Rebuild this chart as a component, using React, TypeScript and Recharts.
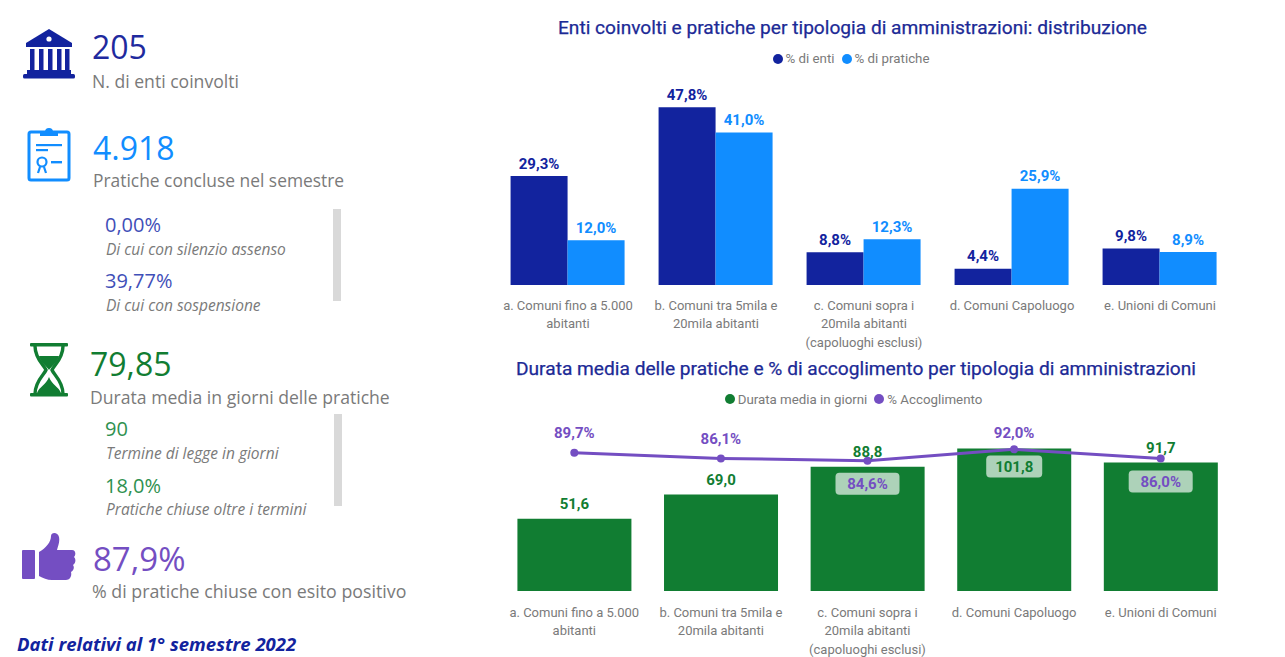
import { CSSProperties, ReactNode } from "react";
import {
  Bar,
  ComposedChart,
  LabelList,
  Legend,
  Line,
  XAxis,
  YAxis,
} from "recharts";

const categories = [
  "a. Comuni fino a 5.000\nabitanti",
  "b. Comuni tra 5mila e\n20mila abitanti",
  "c. Comuni sopra i\n20mila abitanti\n(capoluoghi esclusi)",
  "d. Comuni Capoluogo",
  "e. Unioni di Comuni",
];
const enti = [29.3, 47.8, 8.8, 4.4, 9.8];
const pratiche = [12.0, 41.0, 12.3, 25.9, 8.9];
const durata = [51.6, 69.0, 88.8, 101.8, 91.7];
const accoglimento = [89.7, 86.1, 84.6, 92.0, 86.0];

const distribuzione = categories.map((name, i) => ({
  name,
  enti: enti[i],
  pratiche: pratiche[i],
}));
const durataData = categories.map((name, i) => ({
  name,
  durata: durata[i],
  accoglimento: accoglimento[i],
}));

const BLUE = "#12239e";
const LIGHT_BLUE = "#118dff";
const GREEN = "#117d32";
const PURPLE = "#744ec2";
const GREY = "#7a7a7a";
const CHART_FONT = "Roboto, sans-serif";
const KPI_FONT = "'Open Sans', sans-serif";

const pct = (v: number) => `${v.toFixed(1).replace(".", ",")}%`;
const num = (v: number) => v.toFixed(1).replace(".", ",");

function tickFor(firstLine: number) {
  return function CategoryTick({ x, y, payload }: any) {
    const lines = String(payload.value).split("\n");
    return (
      <text
        x={x}
        y={y + firstLine}
        textAnchor="middle"
        fontFamily={CHART_FONT}
        fontSize={13}
        fill={GREY}
      >
        {lines.map((line, i) => (
          <tspan key={line} x={x} dy={i === 0 ? 0 : 18.3}>
            {line}
          </tspan>
        ))}
      </text>
    );
  };
}

// value label above the mark, or on a pale chip below it for the indexes in chipAt
function ValueLabel(props: any, fmt: (v: number) => string, color: string, gap: (i: number) => number, chipAt: number[], chipGap: number, chipW: number) {
  const { x, y, width, value, index } = props;
  const cx = width ? x + width / 2 : x;
  if (chipAt.includes(index)) {
    const cy = y + chipGap;
    return (
      <g key={index}>
        <rect x={cx - chipW / 2} y={cy - 11} width={chipW} height={22} rx={4} fill="#fff" fillOpacity={0.66} />
        <text x={cx} y={cy} dy="0.35em" textAnchor="middle" fontFamily={CHART_FONT} fontSize={15} fontWeight={700} fill={color}>
          {fmt(value)}
        </text>
      </g>
    );
  }
  return (
    <text key={index} x={cx} y={y - gap(index)} dy="0.35em" textAnchor="middle" fontFamily={CHART_FONT} fontSize={15} fontWeight={700} fill={color}>
      {fmt(value)}
    </text>
  );
}

function renderLegend({ payload }: any) {
  return (
    <div style={{ display: "flex", justifyContent: "center", alignItems: "center", gap: 7, height: 20 }}>
      {payload.map((item: any) => (
        <span key={item.value} style={{ display: "flex", alignItems: "center", gap: 3 }}>
          <svg width={10} height={10}>
            <circle cx={5} cy={5} r={5} fill={item.color} />
          </svg>
          <span style={{ color: GREY, fontFamily: CHART_FONT, fontSize: 13.3, lineHeight: 1 }}>{item.value}</span>
        </span>
      ))}
    </div>
  );
}

function ChartTitle({ top, left, width, children }: { top: number; left: number; width: number; children: string }) {
  return (
    <svg style={{ position: "absolute", left, top, overflow: "visible" }} width={width} height={24}>
      <text
        x={0}
        y={18}
        textLength={width}
        lengthAdjust="spacingAndGlyphs"
        fontFamily={CHART_FONT}
        fontSize={18}
        fontWeight={400}
        fill="#1c2a96"
        stroke="#1c2a96"
        strokeWidth={0.25}
      >
        {children}
      </text>
    </svg>
  );
}

function Txt({ x, y, size, color, style, children }: { x: number; y: number; size: number; color: string; style?: CSSProperties; children: ReactNode }) {
  return (
    <div
      style={{
        position: "absolute",
        left: x,
        top: y,
        transform: "translateY(-50%)",
        fontFamily: KPI_FONT,
        fontSize: size,
        color,
        lineHeight: 1,
        whiteSpace: "nowrap",
        ...style,
      }}
    >
      {children}
    </div>
  );
}

function GreyBar({ x, top, height }: { x: number; top: number; height: number }) {
  return <div style={{ position: "absolute", left: x, top, width: 8, height, background: "#d9d9d9" }} />;
}

function BankIcon() {
  return (
    <svg style={{ position: "absolute", left: 23, top: 29 }} width={52} height={50} viewBox="0 0 52 50">
      <path d="M26 0 L49 14 V18 H3 V14 Z" fill={BLUE} />
      <circle cx={26} cy={10} r={2.6} fill="#fff" />
      {[7, 16, 25, 34, 42].map((x) => (
        <rect key={x} x={x} y={20} width={4.5} height={21} fill={BLUE} />
      ))}
      <rect x={4} y={41} width={44} height={4} fill={BLUE} />
      <rect x={0} y={45} width={52} height={4.5} rx={1.5} fill={BLUE} />
    </svg>
  );
}

function ClipboardIcon() {
  return (
    <svg style={{ position: "absolute", left: 27, top: 127 }} width={44} height={55} viewBox="0 0 44 55">
      <rect x={2} y={5} width={40} height={48} rx={2} fill="none" stroke={LIGHT_BLUE} strokeWidth={3} />
      <path d="M13 9 V5 H18 A4 4 0 0 1 26 5 H31 V9 Z" fill={LIGHT_BLUE} />
      <rect x={9} y={17} width={26} height={2.2} fill={LIGHT_BLUE} />
      <rect x={9} y={22} width={12} height={2.2} fill={LIGHT_BLUE} />
      <circle cx={15} cy={35} r={4.5} fill="none" stroke={LIGHT_BLUE} strokeWidth={2.2} />
      <path d="M11 46 L13 40 M19 46 L17 40" stroke={LIGHT_BLUE} strokeWidth={2.2} />
      <rect x={24} y={34} width={11} height={2.4} fill={LIGHT_BLUE} />
    </svg>
  );
}

function HourglassIcon() {
  return (
    <svg style={{ position: "absolute", left: 30, top: 343 }} width={38} height={54} viewBox="0 0 38 54">
      <rect x={0} y={0} width={38} height={3.5} rx={1} fill={GREEN} />
      <rect x={0} y={50} width={38} height={3.5} rx={1} fill={GREEN} />
      <path d="M5 3 C5 16 14 22 16 27 C14 32 5 38 5 51" fill="none" stroke={GREEN} strokeWidth={3.4} />
      <path d="M33 3 C33 16 24 22 22 27 C24 32 33 38 33 51" fill="none" stroke={GREEN} strokeWidth={3.4} />
      <path d="M9 13 H29 C27 20 21 24 19 27 C17 24 11 20 9 13 Z" fill={GREEN} />
      <path d="M7 50 C9 44 16 42 19 34 C22 42 29 44 31 50 Z" fill={GREEN} />
    </svg>
  );
}

function ThumbIcon() {
  return (
    <svg style={{ position: "absolute", left: 22, top: 533 }} width={54} height={48} viewBox="0 0 54 48">
      <rect x={0} y={17} width={13} height={29} rx={1} fill={PURPLE} />
      <path
        d="M17 19 C24 15 29 9 29 3 C29 -1 36 -1 37 4 C38 9 36 13 35 17 H50 C54 17 54 22 52 24 C54 26 54 30 51 32 C53 35 51 38 49 39 C50 43 48 47 44 47 H30 C25 47 21 45 17 43 Z"
        fill={PURPLE}
      />
    </svg>
  );
}

const italic: CSSProperties = { fontStyle: "italic" };

export default function App() {
  const Tick1 = tickFor(17);
  const Tick2 = tickFor(18);
  return (
    <div style={{ position: "absolute", left: 0, top: 0, width: 1285, height: 657, background: "#fff", overflow: "hidden" }}>
      <BankIcon />
      <Txt x={92} y={47} size={32} color="#1f2a9e">205</Txt>
      <Txt x={92} y={81.5} size={17.6} color={GREY}>N. di enti coinvolti</Txt>

      <ClipboardIcon />
      <Txt x={93} y={148} size={32} color={LIGHT_BLUE}>4.918</Txt>
      <Txt x={93} y={181} size={17.4} color={GREY}>Pratiche concluse nel semestre</Txt>
      <Txt x={105} y={225} size={20} color="#3f4fb8">0,00%</Txt>
      <Txt x={106} y={250} size={15.5} color={GREY} style={italic}>Di cui con silenzio assenso</Txt>
      <Txt x={105} y={281} size={20} color="#3f4fb8">39,77%</Txt>
      <Txt x={106} y={306} size={15.5} color={GREY} style={italic}>Di cui con sospensione</Txt>
      <GreyBar x={333} top={209} height={92} />

      <HourglassIcon />
      <Txt x={90} y={364} size={32} color={GREEN}>79,85</Txt>
      <Txt x={90} y={398} size={17.6} color={GREY}>Durata media in giorni delle pratiche</Txt>
      <Txt x={105} y={429} size={20} color="#2f9150">90</Txt>
      <Txt x={106} y={454} size={15.5} color={GREY} style={italic}>Termine di legge in giorni</Txt>
      <Txt x={105} y={486} size={20} color="#2f9150">18,0%</Txt>
      <Txt x={106} y={510} size={15.5} color={GREY} style={italic}>Pratiche chiuse oltre i termini</Txt>
      <GreyBar x={334} top={414} height={92} />

      <ThumbIcon />
      <Txt x={93} y={558} size={33} color={PURPLE}>87,9%</Txt>
      <Txt x={92} y={592} size={17.8} color={GREY}>% di pratiche chiuse con esito positivo</Txt>
      <Txt x={17} y={644} size={18.5} color={BLUE} style={{ fontWeight: 700, fontStyle: "italic" }}>Dati relativi al 1° semestre 2022</Txt>

      <ChartTitle left={558} top={16} width={589}>Enti coinvolti e pratiche per tipologia di amministrazioni: distribuzione</ChartTitle>
      <ComposedChart
        style={{ position: "absolute", left: 480, top: 10 }}
        width={770}
        height={340}
        data={distribuzione}
        margin={{ top: 69, right: 16, left: 14, bottom: 5 }}
        barCategoryGap="11.2%"
        barGap={0}
      >
        <XAxis dataKey="name" height={60} axisLine={false} tickLine={false} interval={0} tick={<Tick1 />} />
        <YAxis hide domain={[0, 50]} />
        <Legend verticalAlign="top" height={20} itemSorter={null} content={renderLegend} wrapperStyle={{ top: 39, left: 1 }} />
        <Bar dataKey="enti" name="% di enti" fill={BLUE} isAnimationActive={false}>
          <LabelList dataKey="enti" content={(p: any) => ValueLabel(p, pct, BLUE, () => 12.5, [], 0, 0)} />
        </Bar>
        <Bar dataKey="pratiche" name="% di pratiche" fill={LIGHT_BLUE} isAnimationActive={false}>
          <LabelList dataKey="pratiche" content={(p: any) => ValueLabel(p, pct, LIGHT_BLUE, () => 12.5, [], 0, 0)} />
        </Bar>
      </ComposedChart>

      <ChartTitle left={516} top={357} width={680}>Durata media delle pratiche e % di accoglimento per tipologia di amministrazioni</ChartTitle>
      <ComposedChart
        style={{ position: "absolute", left: 480, top: 350 }}
        width={770}
        height={307}
        data={durataData}
        margin={{ top: 67, right: 16, left: 21, bottom: 6 }}
        barCategoryGap="11.2%"
      >
        <XAxis dataKey="name" height={60} axisLine={false} tickLine={false} interval={0} tick={<Tick2 />} />
        <YAxis hide yAxisId="left" domain={[0, 110]} />
        <YAxis hide yAxisId="right" orientation="right" domain={[0, 100]} />
        <Legend verticalAlign="top" height={20} itemSorter={null} content={renderLegend} wrapperStyle={{ top: 39.5, left: 7 }} />
        <Bar yAxisId="left" dataKey="durata" name="Durata media in giorni" fill={GREEN} isAnimationActive={false}>
          <LabelList dataKey="durata" content={(p: any) => ValueLabel(p, num, GREEN, () => 15, [3], 18, 56)} />
        </Bar>
        <Line
          yAxisId="right"
          dataKey="accoglimento"
          name="% Accoglimento"
          stroke={PURPLE}
          strokeWidth={3}
          dot={{ r: 4, fill: PURPLE, stroke: PURPLE, strokeWidth: 0 }}
          isAnimationActive={false}
        >
          <LabelList dataKey="accoglimento" content={(p: any) => ValueLabel(p, pct, PURPLE, (i) => (i === 3 ? 17 : 20), [2, 4], 23, 64)} />
        </Line>
      </ComposedChart>
    </div>
  );
}
